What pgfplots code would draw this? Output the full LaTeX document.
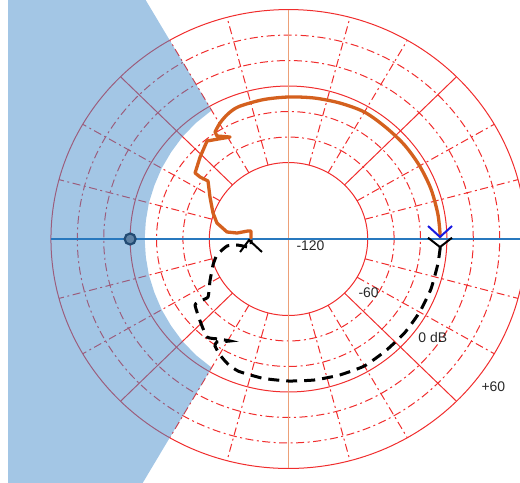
\documentclass[border=0pt]{standalone}
\usepackage{fontspec}
\setmainfont{Liberation Sans}
\usepackage{pgfplots}
\pgfplotsset{compat=1.18}
\definecolor{gridred}{RGB}{240,45,45}
\definecolor{regionblue}{RGB}{72,142,204}
\definecolor{axblue}{RGB}{40,120,190}
\definecolor{axorange}{RGB}{236,160,120}
\definecolor{curveorange}{RGB}{212,96,30}
\definecolor{labelgray}{RGB}{40,40,40}
\definecolor{markblue}{RGB}{35,75,115}
\definecolor{markfill}{RGB}{95,130,165}
\definecolor{arrowblue}{RGB}{25,25,225}

% positive frequencies: smooth arc, then wiggly part
\pgfplotstableread{
x y
114.8 1.6
114.8 4.7
113.1 19.9
107.9 39.3
99.3 57.4
87.9 73.7
73.6 87.7
57.5 99.6
38.8 106.7
19.5 110.6
0.0 111.4
-19.3 109.3
-37.8 103.8
-46.0 98.0
-51.9 91.0
-55.7 83.9
}\posarc
\pgfplotstableread{
x y
-55.7 83.9
-54.2 80.8
-44.3 80.0
-53.4 78.4
-61.7 76.9
-67.0 64.3
-70.8 51.8
-67.0 48.6
-61.0 45.5
-59.5 32.9
-57.2 20.4
-54.2 12.5
-46.6 5.5
-39.0 4.7
-30.7 6.3
-28.4 6.3
-28.4 0.8
}\poswig

% negative frequencies (dashed)
\pgfplotstableread{
x y
114.8 -6.3
114.8 -8.0
113.1 -19.9
107.9 -39.3
99.3 -57.4
87.9 -73.7
73.6 -87.7
57.5 -99.6
38.8 -106.7
19.5 -110.6
0.0 -111.4
-19.3 -109.3
-37.8 -103.8
-46.0 -98.0
-51.9 -91.0
-55.7 -83.9
-54.2 -80.8
-44.3 -80.0
-53.4 -78.4
-61.7 -76.9
-67.0 -64.3
-70.8 -51.8
-67.0 -48.6
-61.0 -45.5
-59.5 -32.9
-57.2 -20.4
-54.2 -12.5
-46.6 -5.5
-39.0 -4.7
-30.7 -6.3
-28.4 -6.3
-28.4 -0.8
}\negfreq

\begin{document}
\begin{tikzpicture}
\begin{axis}[
  at={(0,0)}, anchor=south west,
  width=520bp, height=483bp, scale only axis,
  hide axis, clip=true,
  xmin=-218.6, xmax=175.4, ymin=-191.4, ymax=187.5,
]
% grid circles
\draw[gridred, line width=1bp] (axis cs:0,0) ellipse [x radius=60, y radius=60];
\draw[gridred, line width=1bp] (axis cs:0,0) ellipse [x radius=120, y radius=120];
\draw[gridred, line width=1bp] (axis cs:0,0) ellipse [x radius=180, y radius=180];
\pgfplotsinvokeforeach{80,100,140,160}{
  \draw[gridred, line width=1bp, dash pattern=on 8bp off 3.5bp on 2bp off 3.5bp] (axis cs:0,0) ellipse [x radius=#1, y radius=#1];
}
% radial lines
\pgfplotsinvokeforeach{15,30,60,75,105,120,150,165,195,210,240,255,285,300,330,345}{
  \draw[gridred, line width=1bp, dash pattern=on 8bp off 3.5bp on 2bp off 3.5bp] (axis cs:{60*cos(#1)},{60*sin(#1)}) -- (axis cs:{180*cos(#1)},{180*sin(#1)});
}
\pgfplotsinvokeforeach{45,135,225,315}{
  \draw[gridred, line width=1bp] (axis cs:{60*cos(#1)},{60*sin(#1)}) -- (axis cs:{180*cos(#1)},{180*sin(#1)});
}
% shaded region
\addplot[fill=regionblue, fill opacity=0.5, draw=none] coordinates {
 (-200,346.4) (-212.5,346.4) (-212.5,-346.4) (-200,-346.4)
 (-58.25,-100.9) (-70.0,-91.2) (-80.3,-80.3) (-88.9,-68.2) (-96.1,-55.5)
 (-101.6,-42.1) (-105.8,-28.3) (-108.1,-14.2) (-109,0)
 (-108.1,14.2) (-105.8,28.3) (-101.6,42.1) (-96.1,55.5) (-88.9,68.2)
 (-80.3,80.3) (-70.0,91.2) (-58.25,100.9)
} -- cycle;
% axes lines
\addplot[axorange, line width=1.5bp] coordinates {(0,-180) (0,180)};
\addplot[axblue, line width=1.3bp] coordinates {(-180,0) (200,0)};
% curves
\addplot[curveorange, line width=3.3bp, line join=round, line cap=round, smooth, tension=0.5] table[x=x,y=y] {\posarc};
\addplot[curveorange, line width=3.3bp, line join=round, line cap=round] table[x=x,y=y] {\poswig};
\addplot[black, line width=3bp, dash pattern=on 11bp off 7bp, smooth, tension=0.3] table[x=x,y=y] {\negfreq};
% direction arrows
\addplot[arrowblue, line width=2bp] coordinates {(105.7,10.2) (114.8,1.6) (123.9,10.2)};
\addplot[black, line width=2bp] coordinates {(105.7,1.0) (114.8,-6.3) (123.9,1.0)};
\addplot[black, line width=2bp] coordinates {(-36.7,-10.2) (-29.9,-0.8) (-20.1,-10.2)};
% critical point
\addplot[only marks, mark=*, mark size=5.5bp, mark options={draw=markblue, fill=markfill, line width=2.2bp}] coordinates {(-120,0)};
% labels
\node[anchor=west, text=labelgray, font=\fontsize{14}{16}\selectfont] at (axis cs:3.4,-5.5) {-120};
\node[anchor=west, text=labelgray, font=\fontsize{14}{16}\selectfont] at (axis cs:50.4,-42.4) {-60};
\node[anchor=west, text=labelgray, font=\fontsize{14}{16}\selectfont] at (axis cs:95.8,-77.6) {0 dB};
\node[anchor=west, text=labelgray, font=\fontsize{14}{16}\selectfont] at (axis cs:143.6,-116) {+60};
\end{axis}
\pgfresetboundingbox
\path (0,0) rectangle (520bp,483bp);
\end{tikzpicture}
\end{document}
